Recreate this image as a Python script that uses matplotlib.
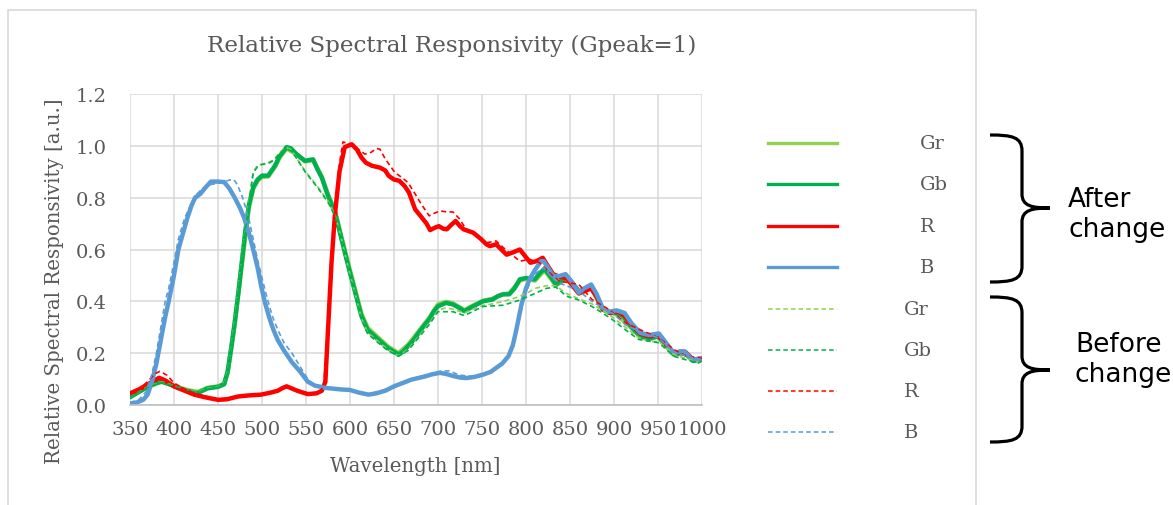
import matplotlib.pyplot as plt
from matplotlib.lines import Line2D
from matplotlib.patches import Rectangle, PathPatch
from matplotlib.path import Path

W, H = 1173, 506

# ---- data (wavelength nm, relative response) ----
wl_gb_after = [350, 360, 370, 380, 386, 395, 405, 415, 427, 438, 450, 457, 461, 465, 469, 473, 477,
               481, 485, 490, 495, 500, 507, 511, 515, 520, 528, 533, 538, 544, 549, 553, 558, 563,
               568, 575, 583, 590, 598, 605, 613, 620, 632, 643, 650, 655, 660, 666, 672, 678, 685,
               690, 695, 700, 709, 717, 724, 730, 740, 751, 762, 768, 774, 781, 787, 793, 800, 810,
               816, 821, 827, 834, 840, 847, 853, 860, 867, 874, 880, 887, 895, 902, 910, 920, 930,
               940, 950, 958, 968, 975, 981, 990, 1000]
gb_after = [0.03, 0.05, 0.07, 0.085, 0.09, 0.08, 0.066, 0.055, 0.046, 0.064, 0.07, 0.08, 0.13, 0.22,
            0.32, 0.43, 0.55, 0.67, 0.77, 0.84, 0.87, 0.885, 0.885, 0.905, 0.925, 0.96, 0.995, 0.99,
            0.972, 0.955, 0.942, 0.945, 0.948, 0.91, 0.877, 0.807, 0.742, 0.645, 0.536, 0.446, 0.343,
            0.29, 0.253, 0.22, 0.205, 0.195, 0.205, 0.227, 0.25, 0.278, 0.31, 0.33, 0.36, 0.381,
            0.394, 0.388, 0.375, 0.362, 0.381, 0.40, 0.407, 0.42, 0.427, 0.427, 0.45, 0.485, 0.49,
            0.485, 0.51, 0.525, 0.50, 0.465, 0.48, 0.495, 0.47, 0.44, 0.44, 0.455, 0.42, 0.37,
            0.355, 0.355, 0.345, 0.30, 0.265, 0.255, 0.265, 0.235, 0.195, 0.2, 0.2, 0.17, 0.175]

wl_gr_after = [350, 360, 370, 386, 400, 415, 427, 438, 450, 457, 461, 469, 477, 485, 490, 495, 500,
               507, 515, 520, 528, 538, 549, 558, 568, 575, 583, 590, 598, 605, 613, 620, 632, 643,
               655, 666, 678, 690, 700, 709, 717, 730, 740, 751, 762, 774, 781, 793, 800, 810, 821,
               834, 847, 860, 874, 887, 902, 920, 930, 950, 968, 981, 990, 1000]
gr_after = [0.032, 0.052, 0.07, 0.09, 0.074, 0.058, 0.05, 0.066, 0.072, 0.082, 0.125, 0.31, 0.54,
            0.76, 0.835, 0.865, 0.88, 0.882, 0.92, 0.955, 0.99, 0.97, 0.94, 0.945, 0.88, 0.812,
            0.748, 0.652, 0.545, 0.455, 0.352, 0.298, 0.26, 0.226, 0.2, 0.232, 0.284, 0.336, 0.388,
            0.398, 0.392, 0.366, 0.384, 0.402, 0.41, 0.428, 0.43, 0.48, 0.488, 0.48, 0.52, 0.462,
            0.49, 0.438, 0.452, 0.368, 0.352, 0.298, 0.262, 0.262, 0.195, 0.198, 0.17, 0.175]

wl_r_after = [350, 360, 370, 378, 383, 390, 400, 410, 423, 435, 450, 460, 473, 485, 499, 510, 518,
              523, 528, 533, 540, 552, 562, 568, 572, 575, 579, 583, 588, 594, 602, 608, 613, 618,
              625, 634, 640, 644, 650, 656, 662, 667, 674, 680, 687, 691, 697, 701, 706, 710, 715,
              720, 725, 729, 740, 749, 755, 759, 766, 772, 778, 786, 793, 800, 805, 812, 819, 826,
              831, 838, 846, 853, 860, 867, 874, 880, 887, 896, 905, 912, 920, 930, 940, 950, 958,
              968, 975, 981, 990, 1000]
r_after = [0.045, 0.06, 0.079, 0.095, 0.105, 0.095, 0.072, 0.058, 0.04, 0.03, 0.02, 0.022, 0.033,
           0.037, 0.04, 0.048, 0.055, 0.065, 0.072, 0.065, 0.055, 0.042, 0.045, 0.055, 0.09, 0.29,
           0.55, 0.74, 0.9, 0.995, 1.006, 0.985, 0.955, 0.935, 0.923, 0.916, 0.905, 0.884, 0.87,
           0.865, 0.845, 0.82, 0.755, 0.73, 0.70, 0.675, 0.685, 0.69, 0.68, 0.678, 0.695, 0.71,
           0.69, 0.678, 0.665, 0.64, 0.62, 0.613, 0.62, 0.60, 0.58, 0.59, 0.60, 0.57, 0.549, 0.555,
           0.568, 0.53, 0.504, 0.495, 0.49, 0.46, 0.43, 0.44, 0.45, 0.42, 0.37, 0.355, 0.36, 0.345,
           0.31, 0.275, 0.265, 0.27, 0.24, 0.2, 0.205, 0.205, 0.175, 0.18]

wl_b_after = [350, 358, 365, 370, 375, 380, 385, 390, 394, 400, 405, 410, 415, 420, 424, 430, 436,
              442, 450, 457, 463, 469, 475, 480, 485, 490, 495, 499, 503, 508, 513, 518, 525, 534,
              543, 552, 560, 572, 590, 600, 610, 621, 630, 640, 650, 660, 670, 685, 693, 702, 709,
              717, 725, 732, 741, 751, 760, 766, 773, 780, 785, 789, 795, 800, 804, 810, 817, 820,
              825, 831, 837, 845, 852, 860, 866, 874, 880, 887, 894, 903, 912, 920, 930, 940, 951,
              958, 968, 975, 980, 989, 1000]
b_after = [0.005, 0.01, 0.02, 0.04, 0.09, 0.16, 0.25, 0.34, 0.40, 0.50, 0.60, 0.66, 0.72, 0.77,
           0.80, 0.815, 0.84, 0.862, 0.862, 0.86, 0.835, 0.80, 0.76, 0.72, 0.665, 0.60, 0.53, 0.46,
           0.40, 0.34, 0.29, 0.25, 0.21, 0.165, 0.13, 0.09, 0.075, 0.066, 0.06, 0.058, 0.048, 0.04,
           0.045, 0.055, 0.072, 0.085, 0.098, 0.11, 0.118, 0.124, 0.12, 0.112, 0.106, 0.104, 0.108,
           0.117, 0.128, 0.143, 0.16, 0.188, 0.23, 0.29, 0.39, 0.45, 0.485, 0.52, 0.555, 0.555,
           0.53, 0.497, 0.497, 0.505, 0.475, 0.433, 0.45, 0.465, 0.43, 0.375, 0.36, 0.365, 0.355,
           0.315, 0.278, 0.27, 0.276, 0.245, 0.20, 0.207, 0.207, 0.175, 0.18]

wl_gr_before = [350, 360, 370, 386, 400, 415, 427, 438, 450, 457, 461, 469, 477, 484, 490, 495, 500,
                507, 514, 520, 527, 533, 538, 549, 564, 575, 583, 590, 598, 605, 613, 620, 632, 643,
                655, 666, 678, 690, 700, 709, 717, 730, 740, 751, 762, 774, 785, 793, 803, 810, 823,
                834, 846, 860, 875, 887, 898, 913, 928, 940, 951, 968, 981, 996, 1000]
gr_before = [0.03, 0.05, 0.07, 0.09, 0.075, 0.06, 0.05, 0.065, 0.07, 0.085, 0.13, 0.33, 0.57, 0.76,
             0.90, 0.925, 0.93, 0.935, 0.948, 0.975, 0.995, 0.985, 0.96, 0.903, 0.839, 0.787,
             0.735, 0.645, 0.53, 0.44, 0.335, 0.28, 0.245, 0.215, 0.19, 0.215, 0.265, 0.315, 0.365,
             0.375, 0.37, 0.355, 0.37, 0.385, 0.39, 0.40, 0.41, 0.42, 0.435, 0.45, 0.46, 0.46, 0.43,
             0.41, 0.39, 0.365, 0.34, 0.30, 0.26, 0.245, 0.245, 0.195, 0.18, 0.165, 0.17]

wl_gb_before = [350, 360, 370, 386, 400, 415, 427, 438, 450, 457, 461, 469, 477, 484, 490, 495, 500,
                507, 514, 520, 527, 533, 538, 549, 564, 575, 583, 590, 598, 605, 613, 620, 632, 643,
                655, 666, 678, 690, 700, 717, 730, 751, 774, 793, 810, 823, 834, 846, 860, 875, 887,
                898, 913, 928, 951, 968, 981, 996, 1000]
gb_before = [0.03, 0.05, 0.068, 0.088, 0.074, 0.058, 0.048, 0.063, 0.068, 0.082, 0.125, 0.32, 0.56,
             0.75, 0.895, 0.92, 0.928, 0.932, 0.945, 0.97, 0.99, 0.98, 0.958, 0.9, 0.835, 0.782,
             0.73, 0.64, 0.525, 0.435, 0.33, 0.275, 0.24, 0.21, 0.188, 0.21, 0.26, 0.31, 0.36,
             0.36, 0.345, 0.38, 0.385, 0.405, 0.43, 0.45, 0.455, 0.42, 0.405, 0.38, 0.355, 0.33,
             0.29, 0.253, 0.24, 0.188, 0.175, 0.162, 0.17]

wl_r_before = [350, 360, 370, 378, 384, 392, 400, 410, 423, 450, 473, 499, 518, 528, 540, 552, 565,
               570, 574, 578, 583, 588, 592, 598, 604, 610, 617, 624, 630, 634, 640, 651, 660, 666,
               673, 681, 690, 696, 702, 710, 717, 724, 732, 745, 755, 766, 775, 781, 793, 804, 815,
               831, 838, 860, 875, 894, 913, 930, 951, 968, 981, 1000]
r_before = [0.04, 0.06, 0.09, 0.12, 0.13, 0.115, 0.085, 0.065, 0.045, 0.022, 0.033, 0.04, 0.055,
            0.07, 0.055, 0.043, 0.05, 0.07, 0.25, 0.5, 0.75, 0.93, 1.015, 1.01, 1.005, 0.985, 0.968,
            0.975, 0.99, 0.987, 0.95, 0.897, 0.875, 0.858, 0.82, 0.775, 0.73, 0.74, 0.749, 0.745,
            0.745, 0.72, 0.678, 0.65, 0.626, 0.633, 0.605, 0.588, 0.555, 0.562, 0.55, 0.497, 0.478,
            0.465, 0.407, 0.369, 0.317, 0.29, 0.259, 0.214, 0.19, 0.18]

wl_b_before = [350, 360, 368, 375, 380, 385, 390, 394, 400, 405, 412, 420, 425, 432, 440, 450, 458,
               463, 468, 472, 478, 485, 490, 495, 500, 506, 512, 518, 525, 534, 543, 552, 558, 568,
               590, 610, 621, 640, 660, 685, 702, 712, 725, 740, 751, 766, 779, 787, 795, 804, 812,
               820, 830, 838, 850, 860, 875, 890, 900, 913, 930, 950, 968, 981, 1000]
b_before = [0.01, 0.02, 0.05, 0.12, 0.2, 0.3, 0.4, 0.45, 0.55, 0.64, 0.72, 0.78, 0.81, 0.835, 0.85,
            0.855, 0.862, 0.868, 0.87, 0.85, 0.80, 0.72, 0.64, 0.56, 0.49, 0.41, 0.34, 0.29, 0.24,
            0.2, 0.15, 0.1, 0.08, 0.065, 0.06, 0.05, 0.042, 0.06, 0.09, 0.115, 0.13, 0.132, 0.115,
            0.11, 0.118, 0.14, 0.18, 0.25, 0.38, 0.47, 0.51, 0.53, 0.49, 0.47, 0.455, 0.44, 0.40,
            0.37, 0.35, 0.31, 0.28, 0.26, 0.205, 0.19, 0.175]

labels = ['Gr', 'Gb', 'R', 'B']
colors = ['#92D050', '#00B050', '#FF0000', '#5B9BD5']
after = [(wl_gr_after, gr_after), (wl_gb_after, gb_after), (wl_r_after, r_after), (wl_b_after, b_after)]
before = [(wl_gr_before, gr_before), (wl_gb_before, gb_before), (wl_r_before, r_before),
          (wl_b_before, b_before)]

x_ticks = list(range(350, 1001, 50))
y_ticks = [0.0, 0.2, 0.4, 0.6, 0.8, 1.0, 1.2]

GRAY = '#595959'
SERIF = 'DejaVu Serif'


def fx(px):
    return px / W


def fy(py):
    return 1 - py / H


fig = plt.figure(figsize=(W / 100, H / 100), dpi=100)

# chart frame
fig.add_artist(Rectangle((fx(8), fy(540)), fx(976) - fx(8), fy(11) - fy(540),
                         transform=fig.transFigure, fill=False, ec='#d9d9d9', lw=1.2))

ax = fig.add_axes([fx(130), fy(406), fx(702) - fx(130), fy(95) - fy(406)])

lines = []
for (wl, v), c in zip(after, colors):
    ln, = ax.plot(wl, v, color=c, lw=3.2, solid_joinstyle='round', solid_capstyle='round')
    lines.append(ln)
for (wl, v), c in zip(before, colors):
    ln, = ax.plot(wl, v, color=c, lw=1.2, ls=(0, (3, 2)))
    lines.append(ln)

ax.set_xlim(350, 1000)
ax.set_ylim(0, 1.2)
ax.set_xticks(x_ticks)
ax.set_yticks(y_ticks)
ax.set_yticklabels(['%.1f' % t for t in y_ticks])
ax.grid(True, color='#d9d9d9', lw=1.1)
ax.set_axisbelow(True)
for s in ['top', 'right', 'left']:
    ax.spines[s].set_visible(False)
ax.spines['bottom'].set_color('#bfbfbf')
ax.spines['bottom'].set_linewidth(1.2)
ax.tick_params(length=0, labelcolor=GRAY, labelsize=14)
ax.tick_params(axis='x', pad=11)
ax.tick_params(axis='y', pad=17)
for t in ax.get_xticklabels() + ax.get_yticklabels():
    t.set_family(SERIF)

fig.text(fx(452), fy(46), 'Relative Spectral Responsivity (Gpeak=1)', ha='center', va='center',
         color=GRAY, family=SERIF, fontsize=16.6)
fig.text(fx(415), fy(467), 'Wavelength [nm]', ha='center', va='center', color=GRAY,
         family=SERIF, fontsize=14.2)
fig.text(fx(55), fy(281), 'Relative Spectral Responsivity [a.u.]', ha='center', va='center',
         rotation=90, color=GRAY, family=SERIF, fontsize=14.2)

# legend, drawn by hand to match the layout
row_y = [144, 185, 227, 268, 310, 351, 392, 433]
for i, ln in enumerate(lines):
    y = fy(row_y[i])
    fig.add_artist(Line2D([fx(768), fx(837)], [y, y], transform=fig.transFigure,
                          color=ln.get_color(), lw=2.4 if i < 4 else 1.1,
                          ls='-' if i < 4 else (0, (3, 2))))
    fig.text(fx(920 if i < 4 else 904), y, labels[i % 4], ha='left', va='center',
             color=GRAY, family=SERIF, fontsize=14)


# curly braces
def brace(y0, ym, y1):
    xe, xs, xt = 990, 1022, 1050
    pts = [(xe, y0), (1012, y0), (xs, y0 + 2), (xs, y0 + 16),
           (xs, ym - 14),
           (xs, ym - 2), (1032, ym), (xt, ym),
           (1032, ym), (xs, ym + 2), (xs, ym + 14),
           (xs, y1 - 16),
           (xs, y1 - 2), (1012, y1), (xe, y1)]
    codes = [Path.MOVETO, Path.CURVE4, Path.CURVE4, Path.CURVE4,
             Path.LINETO,
             Path.CURVE4, Path.CURVE4, Path.CURVE4,
             Path.CURVE4, Path.CURVE4, Path.CURVE4,
             Path.LINETO,
             Path.CURVE4, Path.CURVE4, Path.CURVE4]
    p = Path([(fx(a), fy(b)) for a, b in pts], codes)
    fig.add_artist(PathPatch(p, transform=fig.transFigure, fill=False, ec='black', lw=2.3))


brace(136, 209, 283)
brace(298, 371, 443)

fig.text(fx(1068), fy(215), 'After\nchange', ha='left', va='center', fontsize=19,
         family='DejaVu Sans', color='black', linespacing=1.2)
fig.text(fx(1075), fy(360), 'Before\nchange', ha='left', va='center', fontsize=19,
         family='DejaVu Sans', color='black', linespacing=1.2)

fig.savefig('out.png', dpi=100)
